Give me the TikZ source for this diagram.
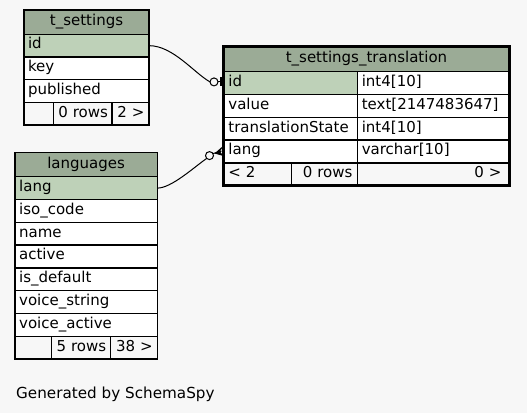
\documentclass[tikz,border=0pt]{standalone}
\usepackage{fontspec}
\setmainfont{DejaVu Sans}
\usetikzlibrary{calc,fit}
\definecolor{canvas}{HTML}{F7F7F7}
\definecolor{hdrfill}{HTML}{9BAB96}
\definecolor{pkfill}{HTML}{BED1B8}
\begin{document}
\begin{tikzpicture}[x=1pt,y=-1pt,
  cellbase/.style={draw=black, line width=1.3pt, inner sep=0pt, outer sep=0pt,
    anchor=north west, font=\fontsize{15}{18}\selectfont,
    text height=11pt, text depth=4.4pt},
  hdr/.style={cellbase, fill=hdrfill, align=center},
  col/.style={cellbase, fill=white, align=left},
  pkcol/.style={cellbase, fill=pkfill, align=left},
  foot/.style={cellbase, fill=canvas, align=right},
  footl/.style={cellbase, fill=canvas, align=left},
  edge/.style={draw=black, line width=1pt},
  ring/.style={circle, draw=black, line width=1pt, fill=canvas,
    minimum size=8pt, inner sep=0pt, outer sep=0pt}
]
% canvas
\fill[canvas] (0,0) rectangle (527,413);
\useasboundingbox (0,0) rectangle (527,413);

% ---- t_settings ----
\node[hdr, minimum width=125pt, minimum height=24.3pt, text width=117pt] (ts-h) at (24,10) {t\_settings};
\node[pkcol, minimum width=125pt, minimum height=22.7pt, text width=117pt] (ts-id) at (24,34.3) {id};
\node[col, minimum width=125pt, minimum height=22.7pt, text width=117pt] (ts-key) at (24,57) {key};
\node[col, minimum width=125pt, minimum height=22.7pt, text width=117pt] (ts-pub) at (24,79.7) {published};
\node[foot, minimum width=29.3pt, minimum height=22.7pt, text width=20pt] (ts-f1) at (24,102.4) {};
\node[foot, minimum width=58.7pt, minimum height=22.7pt, text width=50.7pt] (ts-f2) at (53.3,102.4) {0~rows};
\node[foot, minimum width=37pt, minimum height=22.7pt, text width=28pt] (ts-f3) at (112,102.4) {2~>};

% ---- t_settings_translation ----
\node[hdr, minimum width=286pt, minimum height=25.7pt, text width=276pt] (tst-h) at (223.5,46) {t\_settings\_translation};
\node[pkcol, minimum width=133.8pt, minimum height=22.8pt, text width=124pt] (tst-id) at (223.5,71.7) {id};
\node[col, minimum width=152.2pt, minimum height=22.8pt, text width=143.2pt] (tst-id-t) at (357.3,71.7) {int4[10]};
\node[col, minimum width=133.8pt, minimum height=22.8pt, text width=124pt] (tst-val) at (223.5,94.5) {value};
\node[col, minimum width=152.2pt, minimum height=22.8pt, text width=143.2pt] (tst-val-t) at (357.3,94.5) {text[2147483647]};
\node[col, minimum width=133.8pt, minimum height=22.8pt, text width=124pt] (tst-st) at (223.5,117.3) {translationState};
\node[col, minimum width=152.2pt, minimum height=22.8pt, text width=143.2pt] (tst-st-t) at (357.3,117.3) {int4[10]};
\node[col, minimum width=133.8pt, minimum height=22.8pt, text width=124pt] (tst-lang) at (223.5,140.1) {lang};
\node[col, minimum width=152.2pt, minimum height=22.8pt, text width=143.2pt] (tst-lang-t) at (357.3,140.1) {varchar[10]};
\node[footl, minimum width=68.2pt, minimum height=22.8pt, text width=58.4pt] (tst-f1) at (223.5,162.9) {<~2};
\node[foot, minimum width=65.6pt, minimum height=22.8pt, text width=56pt] (tst-f2) at (291.7,162.9) {0~rows};
\node[foot, minimum width=152.2pt, minimum height=22.8pt, text width=136pt] (tst-f3) at (357.3,162.9) {0~>};
\node[draw=black, line width=3pt, inner sep=0pt, fit=(tst-h)(tst-f3)] (tst-frame) {};

% ---- languages ----
\node[hdr, minimum width=142.3pt, minimum height=24pt, text width=134pt] (lg-h) at (15,152.7) {languages};
\node[pkcol, minimum width=142.3pt, minimum height=22.8pt, text width=134pt] (lg-lang) at (15,176.7) {lang};
\node[col, minimum width=142.3pt, minimum height=22.8pt, text width=134pt] (lg-iso) at (15,199.5) {iso\_code};
\node[col, minimum width=142.3pt, minimum height=22.8pt, text width=134pt] (lg-name) at (15,222.3) {name};
\node[col, minimum width=142.3pt, minimum height=22.8pt, text width=134pt] (lg-act) at (15,245.1) {active};
\node[col, minimum width=142.3pt, minimum height=22.8pt, text width=134pt] (lg-def) at (15,267.9) {is\_default};
\node[col, minimum width=142.3pt, minimum height=22.8pt, text width=134pt] (lg-vs) at (15,290.7) {voice\_string};
\node[col, minimum width=142.3pt, minimum height=22.8pt, text width=134pt] (lg-va) at (15,313.5) {voice\_active};
\node[foot, minimum width=36.7pt, minimum height=22.8pt, text width=26pt] (lg-f1) at (15,336.3) {};
\node[foot, minimum width=59pt, minimum height=22.8pt, text width=50pt] (lg-f2) at (51.7,336.3) {5~rows};
\node[foot, minimum width=46.6pt, minimum height=22.8pt, text width=37.6pt] (lg-f3) at (110.7,336.3) {38~>};

% ---- relationship: t_settings.id -> t_settings_translation.id ----
\node[ring] (r1) at ($(tst-id.west)+(-9.5,-1.2)$) {};
\draw[edge] (ts-id.east) .. controls +(24,0) and +(-16,-9) .. (r1.west);
\draw[edge] (r1.east) -- ($(tst-id.west)+(-2,-1.2)$);
\fill[black] ($(tst-id.west)+(-3.6,-5.8)$) rectangle ($(tst-id.west)+(-0.5,2.8)$);

% ---- relationship: languages.lang -> t_settings_translation.lang ----
\node[ring] (r2) at ($(tst-lang.west)+(-14,4.1)$) {};
\draw[edge] (lg-lang.east) .. controls +(14,0) and +(-13.5,9.5) .. (r2.225);
\draw[edge] (r2.30) -- ($(tst-lang.west)+(-2,-0.5)$);
\fill[black] ($(tst-lang.west)+(0,-6)$) -- ($(tst-lang.west)+(-9,2)$)
  -- ($(tst-lang.west)+(0,4.5)$) -- ($(tst-lang.west)+(-3.5,0)$) -- cycle;

% ---- caption ----
\node[anchor=base west, inner sep=0pt, font=\fontsize{15.2}{18}\selectfont] (caption) at (16,398.3) {Generated by SchemaSpy};
\end{tikzpicture}
\end{document}
